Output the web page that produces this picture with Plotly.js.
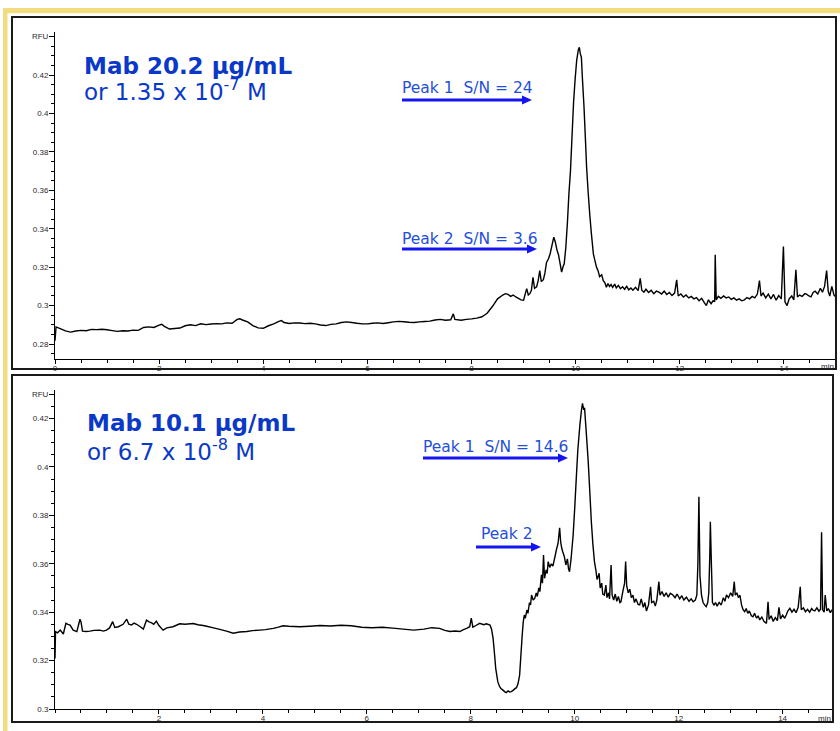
<!DOCTYPE html>
<html>
<head>
<meta charset="utf-8">
<script src="https://cdn.plot.ly/plotly-3.0.1.min.js"></script>
<style>html,body{margin:0;padding:0;background:#fff;}#chart{width:840px;height:731px;}</style>
</head>
<body>
<div id="chart"></div>
<script>
// ---------- DATA ----------
// Panel 1: Mab 20.2 ug/mL  (time, min / RFU)
const T1 = [0,0.02,0.1,0.2,0.3,0.4,0.5,0.6,0.7,0.8,0.9,1.0,1.1,1.2,1.3,1.4,1.5,1.6,1.7,1.8,1.9,2.0,2.05,2.1,2.2,2.3,2.4,2.5,2.6,2.7,2.8,2.9,3.0,3.1,3.2,3.3,3.4,3.5,3.55,3.6,3.7,3.8,3.9,4.0,4.1,4.2,4.3,4.35,4.4,4.5,4.6,4.7,4.8,4.9,5.0,5.1,5.2,5.3,5.4,5.5,5.6,5.7,5.8,5.9,6.0,6.1,6.2,6.3,6.4,6.5,6.6,6.7,6.8,6.9,7.0,7.1,7.2,7.3,7.4,7.5,7.6,7.65,7.68,7.8,7.9,8.0,
8.1,8.2,8.3,8.4,8.5,8.6,8.65,8.7,8.75,8.8,8.85,8.9,8.95,9.0,9.03,9.06,9.09,9.12,9.15,9.18,9.21,9.25,9.28,9.31,9.34,9.38,9.41,9.44,9.48,9.51,9.55,9.58,9.61,9.64,9.67,9.70,9.73,9.76,9.78,9.81,9.84,9.87,9.90,9.93,9.96,9.99,10.02,10.05,10.07,10.09,10.11,10.13,10.16,10.19,10.21,10.24,10.27,10.30,10.34,10.37,10.40,10.43,10.46,10.50,10.53,10.56,10.59,10.62,10.65,10.68,10.71,10.75,10.78,10.82,10.86,10.90,10.94,10.98,11.02,11.06,11.10,11.15,11.20,11.24,11.27,11.31,11.35,11.40,11.45,11.50,11.55,11.60,11.65,11.70,11.75,11.80,11.85,11.90,11.94,11.97,12.02,12.07,12.12,12.17,12.22,12.27,12.32,12.37,12.42,12.47,12.51,12.55,12.60,12.64,12.67,12.68,12.70,12.74,12.79,12.84,12.89,12.94,12.99,13.04,13.09,13.14,13.19,13.24,13.29,13.34,13.39,13.44,13.49,13.53,13.56,13.60,13.65,13.70,13.75,13.80,13.85,13.90,13.95,13.99,14.02,14.06,14.10,14.15,14.19,14.23,14.26,14.30,14.35,14.40,14.44,14.48,14.52,14.56,14.60,14.65,14.70,14.74,14.78,14.82,14.85,14.88,14.92,14.96,15.0];
const V1 = [0.2817,0.2889,0.2880,0.2868,0.2862,0.2868,0.2871,0.2869,0.2876,0.2875,0.2877,0.2874,0.2870,0.2866,0.2869,0.2868,0.2872,0.2871,0.2886,0.2889,0.2886,0.2898,0.2903,0.2892,0.2878,0.2881,0.2883,0.2895,0.2900,0.2896,0.2905,0.2901,0.2904,0.2906,0.2905,0.2910,0.2908,0.2928,0.2931,0.2925,0.2915,0.2896,0.2884,0.2882,0.2895,0.2905,0.2918,0.2922,0.2912,0.2907,0.2910,0.2909,0.2906,0.2908,0.2905,0.2899,0.2896,0.2902,0.2905,0.2912,0.2915,0.2912,0.2908,0.2905,0.2905,0.2908,0.2910,0.2907,0.2911,0.2915,0.2918,0.2916,0.2913,0.2912,0.2915,0.2917,0.2919,0.2925,0.2928,0.2924,0.2926,0.2957,0.2928,0.2924,0.2928,0.2931,
0.2935,0.2942,0.2960,0.2995,0.3035,0.3055,0.3062,0.3058,0.3048,0.3055,0.3045,0.3038,0.3030,0.3028,0.3060,0.3088,0.3055,0.3062,0.3080,0.3147,0.3090,0.3098,0.3130,0.3182,0.3125,0.3135,0.3170,0.3225,0.3245,0.3270,0.3320,0.3356,0.3330,0.3290,0.3265,0.3220,0.3174,0.3205,0.3217,0.3300,0.3425,0.3580,0.3700,0.3880,0.4060,0.4180,0.4278,0.4330,0.4344,0.4310,0.4292,0.4180,0.4035,0.3850,0.3720,0.3590,0.3477,0.3380,0.3269,0.3234,0.3200,0.3182,0.3150,0.3160,0.3130,0.3120,0.3095,0.3115,0.3100,0.3110,0.3095,0.3112,0.3092,0.3105,0.3088,0.3098,0.3085,0.3100,0.3082,0.3092,0.3080,0.3095,0.3078,0.3142,0.3080,0.3070,0.3085,0.3068,0.3080,0.3062,0.3075,0.3070,0.3060,0.3075,0.3058,0.3068,0.3052,0.3065,0.3134,0.3050,0.3060,0.3045,0.3055,0.3040,0.3048,0.3035,0.3042,0.3025,0.3038,0.3015,0.3000,0.3030,0.3010,0.3025,0.3020,0.3265,0.3030,0.3048,0.3038,0.3050,0.3040,0.3045,0.3032,0.3040,0.3028,0.3035,0.3025,0.3030,0.3042,0.3035,0.3048,0.3040,0.3060,0.3130,0.3050,0.3065,0.3040,0.3060,0.3035,0.3058,0.3028,0.3052,0.3035,0.3307,0.3020,0.3000,0.3035,0.3050,0.3030,0.3186,0.3045,0.3055,0.3048,0.3062,0.3058,0.3050,0.3045,0.3068,0.3075,0.3060,0.3090,0.3070,0.3100,0.3182,0.3075,0.3050,0.3100,0.3055,0.3043];

// Panel 2: Mab 10.1 ug/mL
const T2 = [0.00,0.01,0.05,0.10,0.16,0.21,0.25,0.29,0.35,0.42,0.45,0.48,0.50,0.53,0.60,0.67,0.75,0.86,0.93,0.99,1.05,1.11,1.15,1.22,1.31,1.38,1.42,1.47,1.52,1.57,1.64,1.70,1.76,1.81,1.86,1.90,1.95,2.00,2.08,2.15,2.27,2.40,2.50,2.66,2.75,2.85,2.92,3.05,3.17,3.30,3.43,3.55,3.69,3.80,3.94,4.05,4.20,4.30,4.39,4.50,4.71,4.9,5.1,5.3,5.5,5.7,5.9,6.1,6.3,6.5,6.7,6.9,7.1,7.25,7.40,7.5,7.6,7.7,7.79,7.86,7.92,7.98,8.01,8.04,8.10,8.17,8.25,8.30,8.37,8.40,8.43,8.46,8.48,8.52,8.55,8.58,8.62,8.65,8.68,8.72,8.75,8.78,8.82,8.85,8.88,8.91,8.94,8.97,8.99,
9.01,9.03,9.05,9.08,9.10,9.13,9.15,9.17,9.20,9.23,9.26,9.28,9.31,9.33,9.36,9.38,9.40,9.42,9.45,9.47,9.49,9.52,9.55,9.58,9.62,9.65,9.68,9.71,9.73,9.75,9.77,9.80,9.83,9.86,9.88,9.90,9.93,9.97,10.00,10.03,10.06,10.10,10.13,10.15,10.17,10.19,10.22,10.26,10.29,10.32,10.35,10.38,10.41,10.43,10.45,10.47,10.49,10.52,10.54,10.57,10.60,10.62,10.65,10.67,10.70,10.72,10.75,10.78,10.81,10.84,10.87,10.89,10.93,10.96,10.98,11.00,11.03,11.06,11.09,11.12,11.15,11.18,11.22,11.25,11.28,11.32,11.35,11.38,11.42,11.46,11.48,11.52,11.55,11.58,11.62,11.64,11.68,11.72,11.76,11.80,11.84,11.89,11.93,11.97,12.02,12.06,12.10,12.15,12.20,12.24,12.28,12.32,12.35,12.37,12.39,12.41,12.44,12.47,12.50,12.53,12.56,12.58,12.60,12.61,12.63,12.65,12.68,12.71,12.74,12.78,12.82,12.86,12.89,12.92,12.96,13.00,13.04,13.07,13.09,13.12,13.15,13.18,13.21,13.24,13.27,13.30,13.33,13.36,13.40,13.43,13.46,13.50,13.53,13.56,13.60,13.64,13.69,13.72,13.74,13.78,13.82,13.86,13.90,13.93,13.96,14.00,14.04,14.07,14.10,14.14,14.18,14.22,14.26,14.30,14.34,14.36,14.40,14.44,14.48,14.52,14.56,14.58,14.62,14.66,14.70,14.73,14.75,14.77,14.80,14.82,14.85,14.88,14.92,14.95,14.97];
const V2 = [0.3209,0.3320,0.3315,0.3326,0.3310,0.3354,0.3350,0.3347,0.3326,0.3320,0.3345,0.3371,0.3360,0.3322,0.3320,0.3322,0.3325,0.3326,0.3322,0.3326,0.3335,0.3361,0.3337,0.3340,0.3350,0.3371,0.3350,0.3347,0.3355,0.3350,0.3340,0.3330,0.3367,0.3360,0.3356,0.3350,0.3363,0.3345,0.3326,0.3335,0.3340,0.3352,0.3350,0.3353,0.3348,0.3345,0.3342,0.3335,0.3329,0.3322,0.3313,0.3318,0.3320,0.3324,0.3326,0.3328,0.3333,0.3338,0.3344,0.3342,0.3340,0.3342,0.3345,0.3343,0.3346,0.3344,0.3338,0.3336,0.3338,0.3334,0.3330,0.3326,0.3330,0.3336,0.3333,0.3325,0.3320,0.3322,0.3320,0.3328,0.3333,0.3340,0.3375,0.3338,0.3345,0.3354,0.3348,0.3352,0.3347,0.3330,0.3292,0.3220,0.3168,0.3113,0.3095,0.3085,0.3078,0.3072,0.3068,0.3075,0.3070,0.3072,0.3078,0.3084,0.3088,0.3105,0.3140,0.3240,0.3306,
0.3360,0.3388,0.3375,0.3409,0.3395,0.3440,0.3430,0.3471,0.3450,0.3457,0.3480,0.3465,0.3500,0.3485,0.3554,0.3520,0.3636,0.3540,0.3575,0.3560,0.3609,0.3585,0.3600,0.3590,0.3629,0.3660,0.3685,0.3749,0.3690,0.3665,0.3650,0.3630,0.3595,0.3620,0.3580,0.3567,0.3620,0.3719,0.3830,0.3953,0.4070,0.4174,0.4235,0.4263,0.4240,0.4243,0.4150,0.4022,0.3900,0.3774,0.3680,0.3609,0.3570,0.3535,0.3547,0.3561,0.3500,0.3520,0.3475,0.3471,0.3512,0.3460,0.3480,0.3455,0.3595,0.3470,0.3450,0.3475,0.3445,0.3465,0.3440,0.3443,0.3490,0.3520,0.3609,0.3510,0.3480,0.3495,0.3460,0.3470,0.3440,0.3455,0.3432,0.3430,0.3455,0.3420,0.3440,0.3405,0.3430,0.3505,0.3440,0.3445,0.3425,0.3450,0.3526,0.3470,0.3485,0.3465,0.3480,0.3462,0.3478,0.3471,0.3460,0.3475,0.3455,0.3468,0.3450,0.3462,0.3445,0.3455,0.3443,0.3450,0.3470,0.3600,0.3877,0.3550,0.3470,0.3440,0.3430,0.3423,0.3440,0.3480,0.3640,0.3774,0.3600,0.3440,0.3430,0.3440,0.3425,0.3440,0.3430,0.3460,0.3445,0.3471,0.3460,0.3480,0.3465,0.3526,0.3470,0.3480,0.3460,0.3470,0.3430,0.3410,0.3402,0.3415,0.3395,0.3405,0.3385,0.3381,0.3395,0.3375,0.3385,0.3368,0.3380,0.3362,0.3354,0.3443,0.3370,0.3385,0.3362,0.3378,0.3365,0.3420,0.3372,0.3388,0.3375,0.3388,0.3405,0.3416,0.3400,0.3412,0.3398,0.3420,0.3505,0.3410,0.3418,0.3402,0.3412,0.3400,0.3415,0.3409,0.3405,0.3418,0.3404,0.3412,0.3730,0.3410,0.3400,0.3471,0.3405,0.3415,0.3398,0.3410,0.3402];

// Tick labels
const X1_TICKS = [0,2,4,6,8,10,12,14];
const X1_TEXT  = ['0','2','4','6','8','10','12','14'];
const X2_TICKS = [2,4,6,8,10,12,14];
const X2_TEXT  = ['2','4','6','8','10','12','14'];
const Y1_TICKS = [0.28,0.30,0.32,0.34,0.36,0.38,0.40,0.42,0.44];
const Y1_TEXT  = ['0.28','0.3','0.32','0.34','0.36','0.38','0.4','0.42','RFU'];
const Y2_TICKS = [0.30,0.32,0.34,0.36,0.38,0.40,0.42,0.43];
const Y2_TEXT  = ['0.3','0.32','0.34','0.36','0.38','0.4','0.42','RFU'];

// Text
const TITLE1 = ['Mab 20.2 μg/mL', 'or 1.35 x 10<sup>-7</sup> M'];
const TITLE2 = ['Mab 10.1 μg/mL', 'or 6.7 x 10<sup>-8</sup> M'];
const PEAKS1 = ['Peak 1\u00a0\u00a0S/N = 24', 'Peak 2\u00a0\u00a0S/N = 3.6'];
const PEAKS2 = ['Peak 1\u00a0\u00a0S/N = 14.6', 'Peak 2'];

// ---------- LAYOUT ----------
const W = 840, H = 731;
const px = x => x / W;
const py = y => 1 - y / H;

const tickFont = {family: 'Liberation Sans, Arial, sans-serif', size: 8, color: '#2a2a2a'};
function xAxis(domain, range, tv, tt, anchor) {
  return {domain, range, anchor, tickmode: 'array', tickvals: tv, ticktext: tt,
    showline: true, linecolor: '#000', linewidth: 1, ticks: 'outside', ticklen: 4, tickcolor: '#000', tickwidth: 1,
    tickfont: tickFont, showgrid: false, zeroline: false, fixedrange: true, ticklabelstandoff: -3,
    minor: {tickmode: 'linear', tick0: 0, dtick: 0.5, ticks: 'outside', ticklen: 3, tickcolor: '#000', showgrid: false}};
}
function yAxis(domain, range, tv, tt, anchor) {
  return {domain, range, anchor, tickmode: 'array', tickvals: tv, ticktext: tt,
    showline: true, linecolor: '#000', linewidth: 1, ticks: 'outside', ticklen: 5, tickcolor: '#000', tickwidth: 1,
    tickfont: tickFont, showgrid: false, zeroline: false, fixedrange: true, ticklabelstandoff: -1,
    minor: {tickmode: 'linear', tick0: 0, dtick: 0.005, ticks: 'outside', ticklen: 3, tickcolor: '#000', showgrid: false}};
}

const GOLD = '#f1dc80';
const ARROW = '#1414f0';
const PEAKC = '#1f4fd8';
const TITLEC = '#0a38c8';

function arrow(x0, x1, y) {
  return [
    {type: 'line', xref: 'paper', yref: 'paper', x0: px(x0), x1: px(x1 - 9), y0: py(y), y1: py(y),
     line: {color: ARROW, width: 3}},
    {type: 'path', xref: 'paper', yref: 'paper',
     path: `M${px(x1 - 10)},${py(y - 4.5)} L${px(x1)},${py(y)} L${px(x1 - 10)},${py(y + 4.5)} Z`,
     fillcolor: ARROW, line: {color: ARROW, width: 0}}
  ];
}

const shapes = [
  {type: 'rect', xref: 'paper', yref: 'paper', x0: px(3), x1: px(7.5), y0: py(731), y1: py(8), fillcolor: GOLD, line: {width: 0}, layer: 'below'},
  {type: 'rect', xref: 'paper', yref: 'paper', x0: px(3), x1: px(840), y0: py(13.3), y1: py(8), fillcolor: GOLD, line: {width: 0}, layer: 'below'},
  {type: 'rect', xref: 'paper', yref: 'paper', x0: px(12), x1: px(836), y0: py(369), y1: py(17), line: {color: '#1a1a1a', width: 2}},
  {type: 'rect', xref: 'paper', yref: 'paper', x0: px(12), x1: px(833), y0: py(722), y1: py(375), line: {color: '#1a1a1a', width: 2}},
  ...arrow(402, 532, 100),
  ...arrow(402, 537, 249),
  ...arrow(423, 568, 458),
  ...arrow(476, 541, 547)
];

function txt(s, x, y, size, color, bold) {
  return {xref: 'paper', yref: 'paper', x: px(x), y: py(y), xanchor: 'left', yanchor: 'middle',
    text: bold ? '<b>' + s + '</b>' : s, showarrow: false, borderpad: 0,
    font: {family: 'DejaVu Sans, Verdana, sans-serif', size, color}};
}

const annotations = [
  txt(TITLE1[0], 83, 66, 23, TITLEC, true),
  txt(TITLE1[1], 83, 89.5, 23, TITLEC, false),
  txt(TITLE2[0], 86, 423, 23, TITLEC, true),
  txt(TITLE2[1], 86, 449.5, 23, TITLEC, false),
  txt(PEAKS1[0], 401, 88, 15.5, PEAKC, false),
  txt(PEAKS1[1], 401, 238.5, 15.5, PEAKC, false),
  txt(PEAKS2[0], 422, 446.5, 15.5, PEAKC, false),
  txt(PEAKS2[1], 479.5, 533.5, 15.5, PEAKC, false),
  {xref: 'x', yref: 'paper', x: 15, y: py(366.5), xanchor: 'right', yanchor: 'middle', text: 'min', showarrow: false, font: tickFont},
  {xref: 'x2', yref: 'paper', x: 14.97, y: py(718.5), xanchor: 'right', yanchor: 'middle', text: 'min', showarrow: false, font: tickFont}
];

const traces = [
  {x: T1, y: V1, xaxis: 'x', yaxis: 'y', type: 'scatter', mode: 'lines', line: {color: '#000', width: 1.4, simplify: false}, hoverinfo: 'skip'},
  {x: T2, y: V2, xaxis: 'x2', yaxis: 'y2', type: 'scatter', mode: 'lines', line: {color: '#000', width: 1.4, simplify: false}, hoverinfo: 'skip'}
];

const layout = {
  width: W, height: H,
  margin: {l: 0, r: 0, t: 0, b: 0, pad: 0},
  paper_bgcolor: '#fff', plot_bgcolor: 'rgba(0,0,0,0)',
  showlegend: false,
  xaxis: xAxis([px(55), px(836)], [0, 15], X1_TICKS, X1_TEXT, 'y'),
  yaxis: yAxis([py(359), py(32)], [0.2722, 0.4424], Y1_TICKS, Y1_TEXT, 'x'),
  xaxis2: xAxis([px(55), px(833)], [0, 14.97], X2_TICKS, X2_TEXT, 'y2'),
  yaxis2: yAxis([py(709), py(390)], [0.3, 0.4318], Y2_TICKS, Y2_TEXT, 'x2'),
  shapes, annotations
};

Plotly.newPlot('chart', traces, layout, {staticPlot: true, displayModeBar: false});
</script>
</body>
</html>
